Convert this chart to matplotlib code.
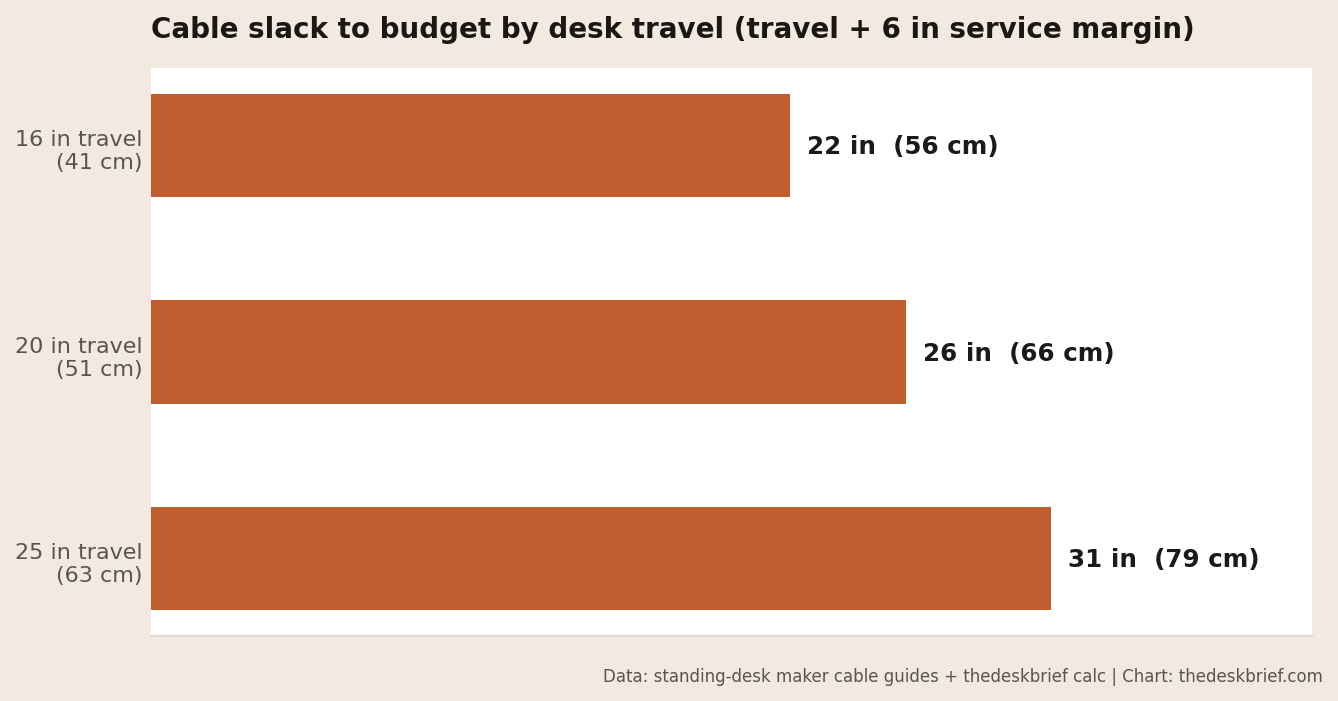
import matplotlib
matplotlib.use('Agg')
import matplotlib.pyplot as plt
import matplotlib.transforms as mtransforms
import numpy as np

# desk travel options and the cable slack to budget (travel + 6 in)
categories = ['16 in travel\n(41 cm)', '20 in travel\n(51 cm)', '25 in travel\n(63 cm)']
slack_in = [22, 26, 31]
slack_cm = [56, 66, 79]

bg = '#F2E9E1'
bar_col = '#C05E2F'

fig = plt.figure(figsize=(13.38, 7.01), dpi=100, facecolor=bg)
ax = fig.add_axes([151/1338, 1 - 636/701, (1312-151)/1338, (636-68)/701])
ax.set_facecolor('white')

y = np.arange(len(categories))
ax.barh(y, slack_in, height=0.5, color=bar_col)

up = mtransforms.ScaledTranslation(0, 1/100, fig.dpi_scale_trans)
for i in range(len(slack_in)):
    ax.text(slack_in[i] + 0.6, y[i], '%d in  (%d cm)' % (slack_in[i], slack_cm[i]),
            va='center_baseline', ha='left', fontsize=17.7, fontweight='bold', color='#1A1A1A',
            transform=ax.transData + up)

ax.set_xlim(0, 40)
ax.set_ylim(2.375, -0.375)
ax.set_yticks(y)
ax.set_yticklabels(categories, fontsize=16, color='#5E534C', linespacing=1.2)
ax.set_xticks([])
ax.tick_params(axis='y', length=0, pad=6)
# nudge tick labels down a little
off = mtransforms.ScaledTranslation(0, -2.5/100, fig.dpi_scale_trans)
for lab in ax.get_yticklabels():
    lab.set_transform(lab.get_transform() + off)

for s in ['top', 'right', 'left']:
    ax.spines[s].set_visible(False)
ax.spines['bottom'].set_color('#E0D8D0')
ax.spines['bottom'].set_linewidth(1.5)

fig.text(151/1338, 1 - 30/701, 'Cable slack to budget by desk travel (travel + 6 in service margin)',
         ha='left', va='center', fontsize=20, fontweight='bold', color='#1A1714')
fig.text(1323/1338, 1 - 677/701, 'Data: standing-desk maker cable guides + thedeskbrief calc | Chart: thedeskbrief.com',
         ha='right', va='center', fontsize=12, color='#5E534C')

fig.savefig('out.png', dpi=100, facecolor=bg)
